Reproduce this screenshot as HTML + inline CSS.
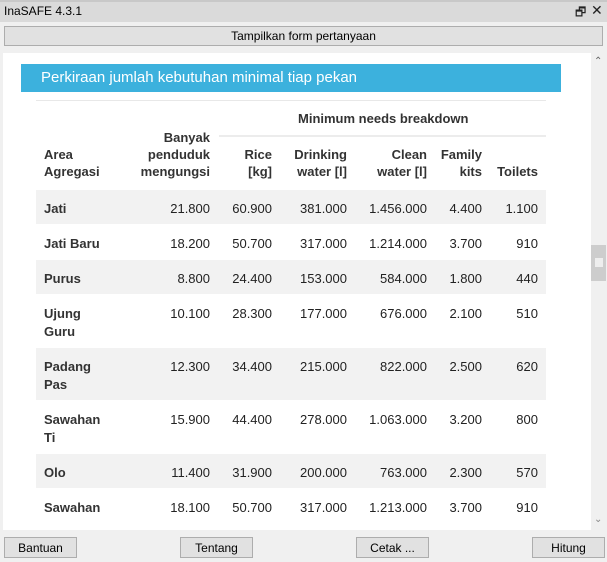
<!DOCTYPE html>
<html><head><meta charset="utf-8"><style>
body{margin:0;width:607px;height:562px;background:#f0f0f0;font-family:"Liberation Sans",sans-serif;font-size:13px;color:#222;position:relative;overflow:hidden}
.a{position:absolute}
.btn{position:absolute;background:#e1e1e1;border:1px solid #adadad;box-sizing:border-box;text-align:center;font-size:12px;line-height:20px;color:#000}
.c{position:absolute;text-align:right;white-space:nowrap}
.h{font-weight:bold;color:#333}
</style></head><body>
<div class="a" style="left:0;top:0;width:607px;height:22px;background:#dadada;border-top:2px solid #c8c8c8;box-sizing:border-box"></div>
<div class="a" style="left:4px;top:4px;font-size:12px;color:#000">InaSAFE 4.3.1</div>
<div class="a" style="left:575px;top:3px;font-size:12px">🗗</div>
<div class="a" style="left:591px;top:2px;font-size:14px">✕</div>
<div class="btn" style="left:4px;top:26px;width:599px;height:20px;line-height:18px">Tampilkan form pertanyaan</div>
<div class="a" style="left:3px;top:53px;width:588px;height:477px;background:#fff"></div>
<div class="a" style="left:591px;top:53px;width:16px;height:477px;background:#f0f0f0"></div>
<div class="a" style="left:594px;top:56px;font-size:10px;color:#666">⌃</div>
<div class="a" style="left:591px;top:245px;width:15px;height:36px;background:#cdcdcd"><div style="position:absolute;left:4px;top:13px;width:8px;height:9px;background:#eee"></div></div>
<div class="a" style="left:594px;top:514px;font-size:10px;color:#888">⌄</div>
<div class="a" style="left:21px;top:64px;width:540px;height:28px;background:#3cb1dd;color:#fff;font-size:15px;line-height:28px;padding-left:20px;box-sizing:border-box">Perkiraan jumlah kebutuhan minimal tiap pekan</div>
<div class="a" style="left:36px;top:100px;width:510px;height:1px;background:#e8e8e8"></div>
<div class="a h" style="left:298px;top:111px">Minimum needs breakdown</div>
<div class="a" style="left:219px;top:135px;width:327px;height:2px;background:#ececec"></div>
<div id="tbl"></div>
<div class="btn" style="left:4px;top:537px;width:73px;height:21px">Bantuan</div>
<div class="btn" style="left:180px;top:537px;width:73px;height:21px">Tentang</div>
<div class="btn" style="left:356px;top:537px;width:73px;height:21px">Cetak ...</div>
<div class="btn" style="left:532px;top:537px;width:73px;height:21px">Hitung</div>
<script>
const areas=[["Jati"],["Jati Baru"],["Purus"],["Ujung","Guru"],["Padang","Pas"],["Sawahan","Ti"],["Olo"],["Sawahan"]];
const pop=["21.800","18.200","8.800","10.100","12.300","15.900","11.400","18.100"];
const rice=["60.900","50.700","24.400","28.300","34.400","44.400","31.900","50.700"];
const drink=["381.000","317.000","153.000","177.000","215.000","278.000","200.000","317.000"];
const clean=["1.456.000","1.214.000","584.000","676.000","822.000","1.063.000","763.000","1.213.000"];
const kits=["4.400","3.700","1.800","2.100","2.500","3.200","2.300","3.700"];
const toilets=["1.100","910","440","510","620","800","570","910"];
const rights=[210,272,347,427,482,538];
const t=document.getElementById('tbl');
function add(html,l,top,cls,r){const d=document.createElement('div');d.className=cls;d.innerHTML=html;d.style.top=top+'px';
if(r!==undefined){d.style.right=(607-r)+'px';}else d.style.left=l+'px';


t.appendChild(d);return d;}
// headers
add('Area<br>Agregasi',44,146,'a h');
const hd=[['Banyak','penduduk','mengungsi'],['Rice','[kg]'],['Drinking','water [l]'],['Clean','water [l]'],['Family','kits'],['Toilets']];
hd.forEach((h,i)=>{add(h.join('<br>'),0,163-(h.length-1)*17,'c h',rights[i]).style.lineHeight='17px';});
t.children[0].style.lineHeight='17px';
let y=189;
areas.forEach((a,i)=>{const hgt=a.length>1?53:35;
const r=document.createElement('div');r.className='a';r.style.cssText=`left:36px;top:${y}px;width:510px;height:${hgt}px;background:${i%2==0?'#f2f2f2':'#fff'};border-top:1px solid #fff`;


t.appendChild(r);
add(a.join('<br>'),44,y+11,'a h').style.lineHeight='18px';
[pop,rice,drink,clean,kits,toilets].forEach((arr,j)=>add(arr[i],0,y+11,'c',rights[j]).style.lineHeight='18px');
y+=hgt;});
</script>
</body></html>
